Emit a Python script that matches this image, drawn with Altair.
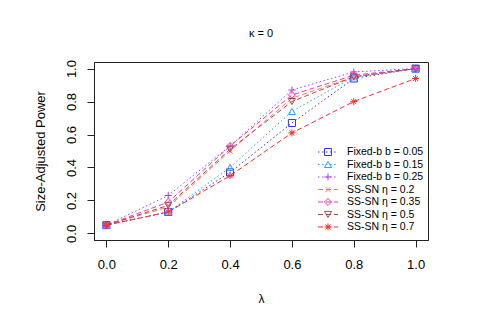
import altair as alt
import pandas as pd

lam = [0.0, 0.2, 0.4, 0.6, 0.8, 1.0]
series = ["Fixed-b b = 0.05", "Fixed-b b = 0.15", "Fixed-b b = 0.25",
          "SS-SN η = 0.2", "SS-SN η = 0.35", "SS-SN η = 0.5", "SS-SN η = 0.7"]
fb005 = [0.05, 0.13, 0.37, 0.67, 0.94, 1.00]
fb015 = [0.05, 0.13, 0.40, 0.74, 0.95, 1.00]
fb025 = [0.05, 0.23, 0.53, 0.87, 0.98, 1.00]
ss02 = [0.05, 0.16, 0.50, 0.82, 0.95, 1.00]
ss035 = [0.05, 0.19, 0.53, 0.84, 0.96, 1.00]
ss05 = [0.05, 0.17, 0.51, 0.80, 0.95, 1.00]
ss07 = [0.05, 0.13, 0.35, 0.61, 0.80, 0.94]
values = [fb005, fb015, fb025, ss02, ss035, ss05, ss07]

colors = ["#3030FF", "#3399FF", "#A040FF", "#FF7F50", "#FF33AA", "#A64B4B", "#FF2A2A"]
dot = [1.5, 2.5]
dash = [5, 3]
dashes = [dot, dot, dot, dash, dash, dash, dash]
plus = "M-1,0L1,0M0,-1L0,1"
cross = "M-0.75,-0.75L0.75,0.75M-0.75,0.75L0.75,-0.75"
star = "M-1,0L1,0M0,-1L0,1M-0.72,-0.72L0.72,0.72M-0.72,0.72L0.72,-0.72"
shapes = ["square", "triangle-up", plus, cross, "diamond", "triangle-down", star]

rows = []
for s, vals in zip(series, values):
    for x, v in zip(lam, vals):
        rows.append({"series": s, "lam": x, "power": v})
df = pd.DataFrame(rows)
leg = pd.DataFrame({"series": series, "idx": list(range(len(series)))})

FONT = "Liberation Sans"
W, H = 334, 178

xs = alt.Scale(domain=[-0.04, 1.04], nice=False, zero=False)
ys = alt.Scale(domain=[-0.04, 1.04], nice=False, zero=False)
cs = alt.Scale(domain=series, range=colors)
ds = alt.Scale(domain=series, range=dashes)
ss = alt.Scale(domain=series, range=shapes)

xax = alt.Axis(values=lam, format=".1f", title="λ", titleX=W / 2, titleY=58,
               titleBaseline="middle", titleFontSize=12, titleFontWeight="normal",
               labelPadding=11, labelOverlap=False)
yax = alt.Axis(values=lam, format=".1f", title="Size-Adjusted Power", titleX=-54,
               titleY=H / 2, titleAngle=-90, titleAlign="center", titleBaseline="middle",
               titleFontSize=13, titleFontWeight="normal", labelOverlap=False,
               labelAngle=-90, labelAlign="center", labelBaseline="bottom", labelPadding=9)

base = alt.Chart(df)
lines = base.mark_line(strokeWidth=1).encode(
    x=alt.X("lam:Q", scale=xs, axis=xax),
    y=alt.Y("power:Q", scale=ys, axis=yax),
    color=alt.Color("series:N", scale=cs, legend=None),
    strokeDash=alt.StrokeDash("series:N", scale=ds, legend=None),
    detail="series:N",
)
points = base.mark_point(filled=False, strokeWidth=1, size=50, opacity=1).encode(
    x=alt.X("lam:Q", scale=xs, axis=xax),
    y=alt.Y("power:Q", scale=ys, axis=yax),
    color=alt.Color("series:N", scale=cs, legend=None),
    shape=alt.Shape("series:N", scale=ss, legend=None),
)

lbase = alt.Chart(leg).transform_calculate(ly="90 + datum.idx * 12.5")
lrule = lbase.mark_rule(strokeWidth=1).encode(
    x=alt.value(224), x2=alt.value(244),
    y=alt.Y("ly:Q", scale=None, axis=None),
    color=alt.Color("series:N", scale=cs, legend=None),
    strokeDash=alt.StrokeDash("series:N", scale=ds, legend=None),
)
lpt = lbase.mark_point(filled=False, strokeWidth=1, size=50, opacity=1).encode(
    x=alt.value(234),
    y=alt.Y("ly:Q", scale=None, axis=None),
    color=alt.Color("series:N", scale=cs, legend=None),
    shape=alt.Shape("series:N", scale=ss, legend=None),
)
ltext = lbase.mark_text(align="left", baseline="middle", fontSize=10.5, font=FONT,
                        color="black").encode(
    x=alt.value(253),
    y=alt.Y("ly:Q", scale=None, axis=None),
    text="series:N",
)

chart = alt.layer(lines, points, lrule, lpt, ltext).properties(
    width=W, height=H,
    background="white",
    title=alt.TitleParams("κ = 0", fontSize=11, fontWeight="normal", font=FONT,
                          baseline="middle", offset=15, anchor="middle", color="black"),
    autosize=alt.AutoSizeParams(type="none"),
    padding={"left": 86, "top": 54, "right": 50, "bottom": 80},
).configure_view(stroke="#222222", strokeWidth=1).configure_axis(
    domain=True, domainColor="#222222", domainWidth=1, grid=False,
    tickColor="#222222", tickSize=7, tickWidth=1, labelOverlap=False,
    labelColor="black", labelFont=FONT, labelFontSize=13, titleFont=FONT,
    titleColor="black",
)

chart.save("out.html", embed_options={"renderer": "svg", "actions": False})
